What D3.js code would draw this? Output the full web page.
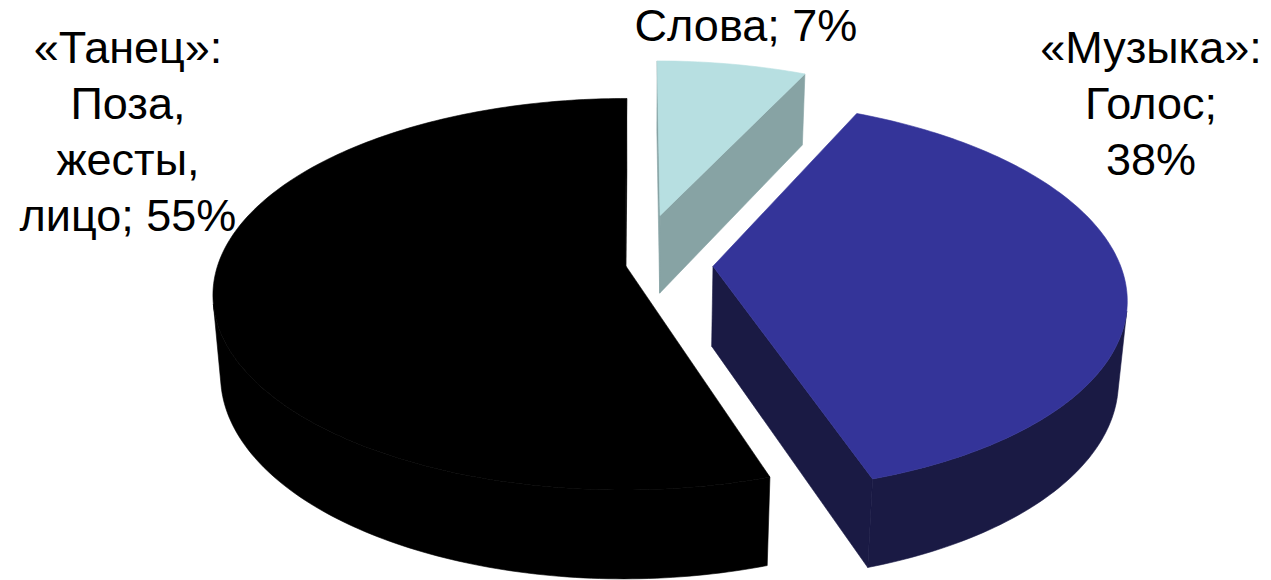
<!DOCTYPE html>
<html lang="ru">
<head>
<meta charset="utf-8">
<script src="https://cdn.jsdelivr.net/npm/d3@7"></script>
<style>
  body { margin: 0; background: #fff; }
  .label { font-family: 'Liberation Sans', Arial, sans-serif; font-size: 45px; fill: #000; }
</style>
</head>
<body>
<div id="chart"></div>
<script>
// data
const categories = ['Слова', '«Музыка»: Голос', '«Танец»: Поза, жесты, лицо'];
const values = [7, 38, 55];
const labelLines = [
  ['Слова; 7%'],
  ['«Музыка»:', 'Голос;', '38%'],
  ['«Танец»:', 'Поза,', 'жесты,', 'лицо; 55%']
];

// styles
const topColors = ['#b7dfe1', '#343499', '#000000'];
const sideColors = ['#87a3a4', '#1a1a44', '#000000'];

var width = 1271;
var height = 580;

// 3d layout
var R = 407;          // pie radius
var H = 92;           // pie thickness
var tilt = 28 * Math.PI / 180;
var D = 2400;         // camera distance
var cx = 637, cy = 264;
var explode = [110, 76, 12];
var labelPos = [
  { x: 746, y: 41 },
  { x: 1151, y: 63 },
  { x: 128, y: 63 }
];
var lineH = 56;

// X right, Y up, Z toward viewer
function project(X, Y, Z) {
  var v = Z * Math.sin(tilt) - Y * Math.cos(tilt);
  var w = Z * Math.cos(tilt) + Y * Math.sin(tilt);
  var k = D / (D - w);
  return [cx + X * k, cy + v * k];
}
var camX = 0, camZ = D * Math.cos(tilt);

var svg = d3.select('#chart').append('svg')
  .attr('width', width)
  .attr('height', height);

var pie = d3.pie().sort(null).value(d => d.value);
var data = categories.map((c, i) => ({ category: c, value: values[i], index: i }));

var slices = pie(data).map((a, i) => {
  var mid = (a.startAngle + a.endAngle) / 2;
  return {
    i: i,
    a0: a.startAngle,
    a1: a.endAngle,
    ox: explode[i] * Math.sin(mid),
    oz: -explode[i] * Math.cos(mid)
  };
});

function rim(s, a, y) {
  return project(s.ox + R * Math.sin(a), y, s.oz - R * Math.cos(a));
}
function apex(s, y) {
  return project(s.ox, y, s.oz);
}

var line = d3.line();
function shape(pts) { return line(pts) + 'Z'; }

// far slices first
slices.sort((a, b) => a.oz - b.oz);

slices.forEach(s => {
  var g = svg.append('g').attr('class', 'slice');
  var n = Math.max(8, Math.ceil((s.a1 - s.a0) * 180 / Math.PI));
  var angles = d3.range(n + 1).map(j => s.a0 + (s.a1 - s.a0) * j / n);
  var faces = [];

  // cut faces
  [[s.a0, -1], [s.a1, 1]].forEach(([a, sign]) => {
    var nx = sign * Math.cos(a), nz = sign * Math.sin(a);
    var vis = (camX - s.ox) * nx + (camZ - s.oz) * nz;
    if (vis > 0) {
      faces.push([apex(s, 0), rim(s, a, 0), rim(s, a, -H), apex(s, -H)]);
    }
  });

  // outer wall, only the parts facing the camera
  var run = [];
  var runs = [];
  for (var j = 0; j < n; j++) {
    var am = (angles[j] + angles[j + 1]) / 2;
    var px = s.ox + R * Math.sin(am), pz = s.oz - R * Math.cos(am);
    var vis = (camX - px) * Math.sin(am) + (camZ - pz) * (-Math.cos(am));
    if (vis > 0) {
      if (!run.length) run.push(angles[j]);
      run.push(angles[j + 1]);
    } else if (run.length) {
      runs.push(run); run = [];
    }
  }
  if (run.length) runs.push(run);
  runs.forEach(r => {
    var pts = r.map(a => rim(s, a, 0)).concat(r.slice().reverse().map(a => rim(s, a, -H)));
    faces.push(pts);
  });

  g.selectAll('path.side')
    .data(faces)
    .enter()
      .append('path')
      .attr('class', 'side')
      .attr('d', shape)
      .attr('fill', sideColors[s.i])
      .attr('stroke', sideColors[s.i])
      .attr('stroke-width', 0.6);

  var top = [apex(s, 0)].concat(angles.map(a => rim(s, a, 0)));
  g.append('path')
    .attr('class', 'top')
    .attr('d', shape(top))
    .attr('fill', topColors[s.i])
    .attr('stroke', topColors[s.i])
    .attr('stroke-width', 0.6);
});

// labels
labelLines.forEach((lines, i) => {
  var t = svg.append('text')
    .attr('class', 'label')
    .attr('text-anchor', 'middle')
    .attr('x', labelPos[i].x)
    .attr('y', labelPos[i].y);
  t.selectAll('tspan')
    .data(lines)
    .enter()
      .append('tspan')
      .attr('x', labelPos[i].x)
      .attr('dy', (d, j) => j === 0 ? 0 : lineH)
      .text(d => d);
});
</script>
</body>
</html>
